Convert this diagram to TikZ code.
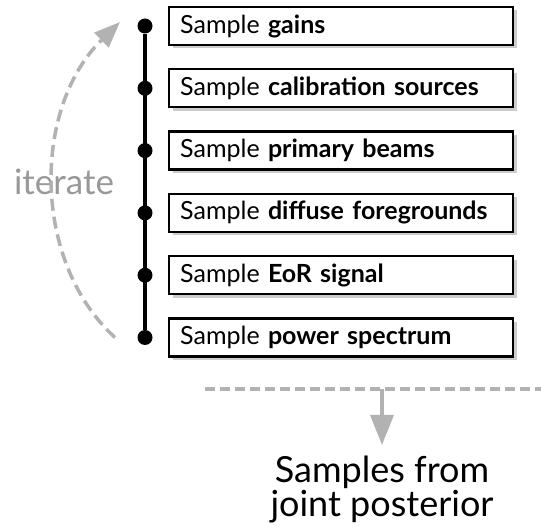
\documentclass[tikz,border=0pt]{standalone}
\usepackage{fontspec}
\setmainfont{Lato}
\usetikzlibrary{arrows.meta,shadows,positioning}

\tikzset{
  paso/.style={draw, rectangle, line width=2.4pt, fill=white, anchor=west,
    text width=322pt, inner xsep=11pt, minimum height=38pt, align=left,
    font=\fontsize{25}{30}\selectfont,
    general shadow={fill=black!20, shadow xshift=3.5pt, shadow yshift=-3.5pt}},
  punto/.style={circle, fill=black, inner sep=0pt, minimum size=15pt},
  gris/.style={draw=black!30, line width=3.5pt},
}

\begin{document}
\begin{tikzpicture}[x=1pt,y=-1pt]
        \useasboundingbox (0,0) rectangle (541,526);
        % pasos del muestreo
        \foreach \txt [count=\i] in {gains,calibration sources,primary beams,diffuse foregrounds,EoR signal,power spectrum}
        {
        \node[punto] (d\i) at (145,{26+62.3*(\i-1)}) {};
        \node[paso] (b\i) at (168,{26+62.3*(\i-1)}) {Sample \textbf{\txt}};
        }
        \draw[line width=3.5pt] (d1) -- (d6); % eje vertical
        % flecha iterate
        \node[text=black!40, font=\fontsize{35}{40}\selectfont, anchor=base] (it) at (64,195) {iterate};
        \draw[gris, dash pattern=on 12pt off 6pt, -{Triangle[length=26pt,width=20pt]}]
          ([xshift=-30pt]d6.center) .. controls (32,262) and (32,108) .. ([xshift=-25pt,yshift=4pt]d1.center);
        % linea punteada y resultado
        \coordinate (hl) at (205,389);
        \coordinate (hr) at (541,389);
        \coordinate (m) at (382,389);
        \draw[gris, dash pattern=on 10pt off 5pt] (hl) -- (hr);
        \node[font=\fontsize{36}{27}\selectfont, align=center, anchor=north, inner sep=0pt] (post) at (382,456) {Samples from\\joint posterior};
        \draw[gris, -{Triangle[length=30pt,width=23pt]}, shorten >=11pt] (m) -- (post);
\end{tikzpicture}
\end{document}
